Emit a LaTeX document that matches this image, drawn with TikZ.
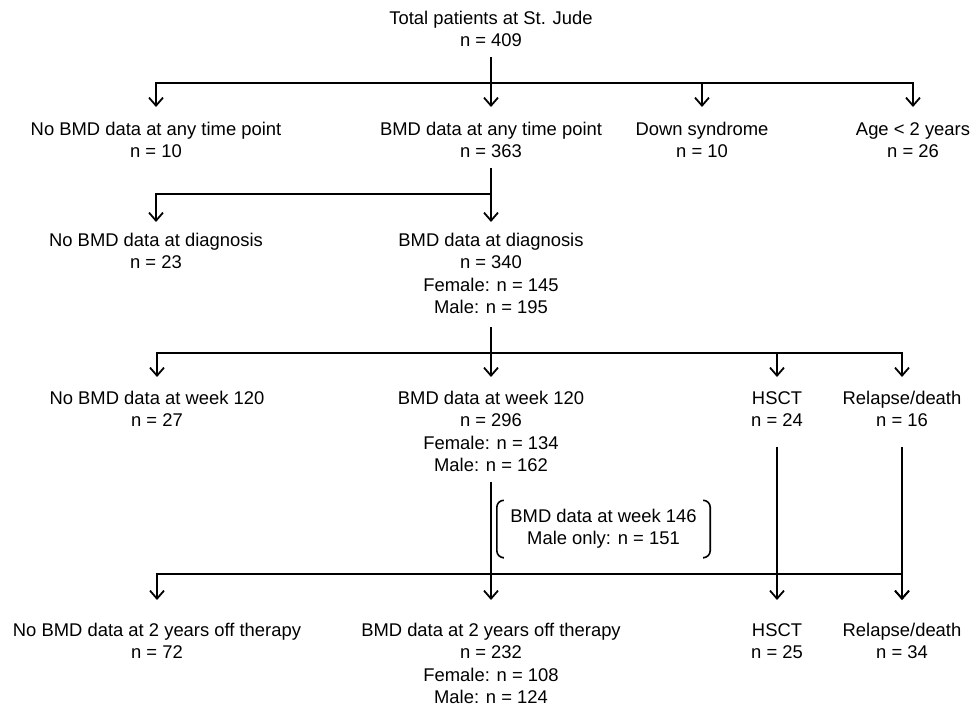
\documentclass[tikz,border=0pt]{standalone}
\usepackage{fontspec}
\setmainfont{Liberation Sans}
\usetikzlibrary{arrows.meta}
\tikzset{
  box/.style={align=center,anchor=north,inner sep=0pt,font=\fontsize{18.4}{22.4}\selectfont},
  wire/.style={line width=1.8pt},
  arr/.style={wire,-{Straight Barb[length=8pt,width=14pt]}},
  brk/.style={line width=1.6pt,rounded corners=7pt},
}
\begin{document}
\begin{tikzpicture}[x=1pt,y=-1pt]
\useasboundingbox (0,0) rectangle (979,711);
\node[box] (tot) at (491,11) {Total patients at St. Jude\\n = 409};
\node[box] (nobmd) at (156,122) {No BMD data at any time point\\n = 10};
\node[box] (bmd) at (491,122) {BMD data at any time point\\n = 363};
\node[box] (down) at (702,122) {Down syndrome\\n = 10};
\node[box] (age) at (913,122) {Age < 2 years\\n = 26};
\node[box] (nodx) at (156,233) {No BMD data at diagnosis\\n = 23};
\node[box] (dx) at (491,233) {BMD data at diagnosis\\n = 340\\Female: n = 145\\Male: n = 195};
\node[box] (nowk) at (157,391) {No BMD data at week 120\\n = 27};
\node[box] (wk) at (491,391) {BMD data at week 120\\n = 296\\Female: n = 134\\Male: n = 162};
\node[box] (hsct1) at (777,391) {HSCT\\n = 24};
\node[box] (rel1) at (902,391) {Relapse/death\\n = 16};
\node[box,anchor=center,minimum width=213pt,minimum height=57pt] (wk146) at (603.5,529) {BMD data at week 146\\Male only: n = 151};
\node[box] (nooff) at (157,623) {No BMD data at 2 years off therapy\\n = 72};
\node[box] (off) at (491,623) {BMD data at 2 years off therapy\\n = 232\\Female: n = 108\\Male: n = 124};
\node[box] (hsct2) at (777,623) {HSCT\\n = 25};
\node[box] (rel2) at (902,623) {Relapse/death\\n = 34};
\coordinate (h1) at (491,83);
\coordinate (h2) at (491,194);
\coordinate (h3) at (491,353);
\coordinate (h4) at (491,574);
\draw[arr,shorten <=10pt,shorten >=15pt] (tot.south) -- (bmd.north);
\draw[arr,shorten >=15pt] (h1) -| (nobmd.north);
\draw[arr,shorten >=15pt] (h1) -| (down.north);
\draw[arr,shorten >=15pt] (h1) -| (age.north);
\draw[arr,shorten <=10pt,shorten >=11pt] (bmd.south) -- (dx.north);
\draw[arr,shorten >=11pt] (h2) -| (nodx.north);
\draw[arr,shorten <=13pt,shorten >=14pt] (dx.south) -- (wk.north);
\draw[arr,shorten >=14pt] (h3) -| (nowk.north);
\draw[arr,shorten >=14pt] (h3) -| (hsct1.north);
\draw[arr,shorten >=14pt] (h3) -| (rel1.north);
\draw[arr,shorten <=10pt,shorten >=23pt] (wk.south) -- (off.north);
\draw[arr,shorten >=23pt] (h4) -| (nooff.north);
\draw[arr,shorten >=23pt] (h4) -| (rel2.north);
\draw[arr,shorten <=20pt,shorten >=23pt] (hsct1.south) -- (hsct2.north);
\draw[arr,shorten <=20pt,shorten >=23pt] (rel1.south) -- (rel2.north);
\draw[brk] ([xshift=6pt]wk146.north west) -- (wk146.north west) -- (wk146.south west) -- ([xshift=6pt]wk146.south west);
\draw[brk] ([xshift=-6pt]wk146.north east) -- (wk146.north east) -- (wk146.south east) -- ([xshift=-6pt]wk146.south east);
\end{tikzpicture}
\end{document}
